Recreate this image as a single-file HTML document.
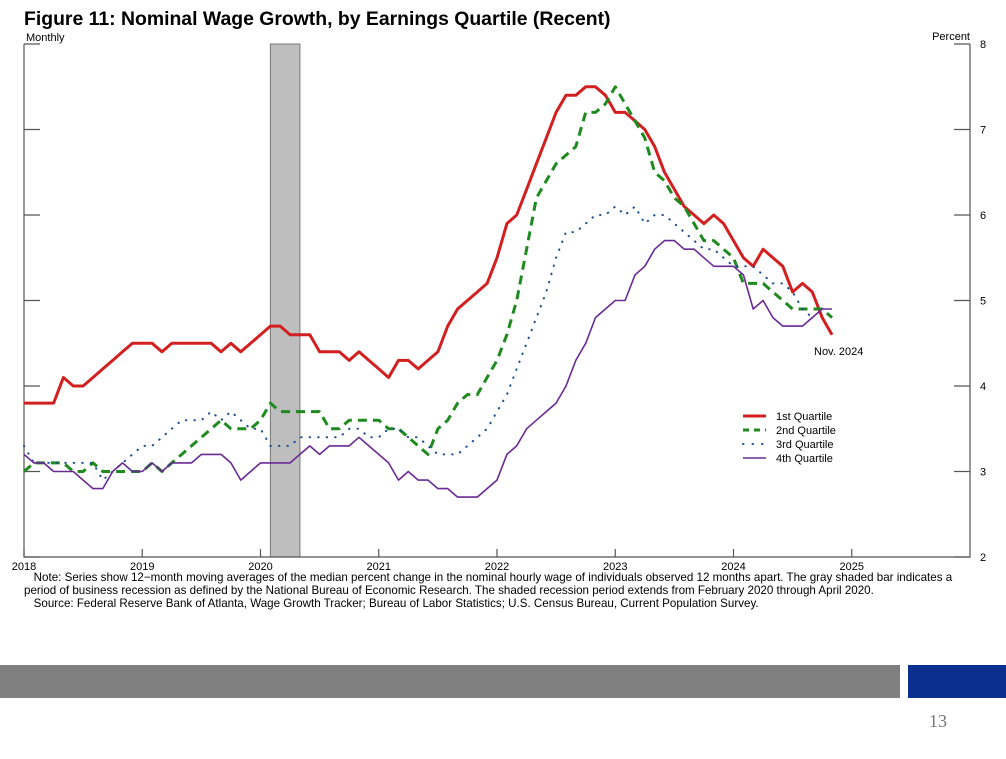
<!DOCTYPE html>
<html><head><meta charset="utf-8"><style>
body{margin:0;width:1006px;height:759px;background:#fff;overflow:hidden;font-family:"Liberation Sans",sans-serif;position:relative}
.t{position:absolute;white-space:nowrap}
</style></head><body>
<div class="t" style="left:24px;top:8px;font-size:19.4px;font-weight:bold;color:#000">Figure 11: Nominal Wage Growth, by Earnings Quartile (Recent)</div>
<svg id="c" width="1006" height="640" style="position:absolute;left:0;top:0" font-family="Liberation Sans, sans-serif"></svg>
<div class="t" style="left:24px;top:571px;font-size:11.6px;line-height:13px;color:#000">&nbsp;&nbsp;&nbsp;Note: Series show 12−month moving averages of the median percent change in the nominal hourly wage of individuals observed 12 months apart. The gray shaded bar indicates a<br>period of business recession as defined by the National Bureau of Economic Research. The shaded recession period extends from February 2020 through April 2020.<br>&nbsp;&nbsp;&nbsp;Source: Federal Reserve Bank of Atlanta, Wage Growth Tracker; Bureau of Labor Statistics; U.S. Census Bureau, Current Population Survey.</div>
<div style="position:absolute;left:0;top:665px;width:900px;height:33px;background:#808080"></div>
<div style="position:absolute;left:908px;top:665px;width:98px;height:33px;background:#0b2f8f"></div>
<div class="t" style="left:929px;top:711px;font-size:18px;color:#777;font-family:'Liberation Serif',serif">13</div>
<script>
const years=[2018,2019,2020,2021,2022,2023,2024,2025];
const yTicks=[2,3,4,5,6,7,8];
const q1=[3.8,3.8,3.8,3.8,4.1,4.0,4.0,4.1,4.2,4.3,4.4,4.5,4.5,4.5,4.4,4.5,4.5,4.5,4.5,4.5,4.4,4.5,4.4,4.5,4.6,4.7,4.7,4.6,4.6,4.6,4.4,4.4,4.4,4.3,4.4,4.3,4.2,4.1,4.3,4.3,4.2,4.3,4.4,4.7,4.9,5.0,5.1,5.2,5.5,5.9,6.0,6.3,6.6,6.9,7.2,7.4,7.4,7.5,7.5,7.4,7.2,7.2,7.1,7.0,6.8,6.5,6.3,6.1,6.0,5.9,6.0,5.9,5.7,5.5,5.4,5.6,5.5,5.4,5.1,5.2,5.1,4.8,4.6];
const q2=[3.0,3.1,3.1,3.1,3.1,3.0,3.0,3.1,3.0,3.0,3.0,3.0,3.0,3.1,3.0,3.1,3.2,3.3,3.4,3.5,3.6,3.5,3.5,3.5,3.6,3.8,3.7,3.7,3.7,3.7,3.7,3.5,3.5,3.6,3.6,3.6,3.6,3.5,3.5,3.4,3.3,3.2,3.5,3.6,3.8,3.9,3.9,4.1,4.3,4.6,5.0,5.6,6.2,6.4,6.6,6.7,6.8,7.2,7.2,7.3,7.5,7.3,7.1,6.9,6.5,6.4,6.2,6.1,5.9,5.7,5.7,5.6,5.5,5.2,5.2,5.2,5.1,5.0,4.9,4.9,4.9,4.9,4.8];
const q3=[3.3,3.1,3.1,3.1,3.1,3.1,3.1,3.1,2.9,3.0,3.1,3.2,3.3,3.3,3.4,3.5,3.6,3.6,3.6,3.7,3.6,3.7,3.6,3.5,3.5,3.3,3.3,3.3,3.4,3.4,3.4,3.4,3.4,3.5,3.5,3.4,3.4,3.5,3.5,3.4,3.4,3.3,3.2,3.2,3.2,3.3,3.4,3.5,3.7,3.9,4.2,4.5,4.8,5.1,5.5,5.8,5.8,5.9,6.0,6.0,6.1,6.0,6.1,5.9,6.0,6.0,5.9,5.8,5.7,5.6,5.6,5.5,5.4,5.4,5.4,5.3,5.2,5.2,5.1,4.9,4.8];
const q4=[3.2,3.1,3.1,3.0,3.0,3.0,2.9,2.8,2.8,3.0,3.1,3.0,3.0,3.1,3.0,3.1,3.1,3.1,3.2,3.2,3.2,3.1,2.9,3.0,3.1,3.1,3.1,3.1,3.2,3.3,3.2,3.3,3.3,3.3,3.4,3.3,3.2,3.1,2.9,3.0,2.9,2.9,2.8,2.8,2.7,2.7,2.7,2.8,2.9,3.2,3.3,3.5,3.6,3.7,3.8,4.0,4.3,4.5,4.8,4.9,5.0,5.0,5.3,5.4,5.6,5.7,5.7,5.6,5.6,5.5,5.4,5.4,5.4,5.3,4.9,5.0,4.8,4.7,4.7,4.7,4.8,4.9,4.9];
const L=24,R=970,T=44,B=557,X0=2018,X1=2026;
const xs=v=>L+(v-X0)/(X1-X0)*(R-L);
const ys=v=>B-(v-2)/6*(B-T);
const xm=i=>xs(X0+i/12);
const svg=document.getElementById('c');const NS='http://www.w3.org/2000/svg';
function mk(t,a){const e=document.createElementNS(NS,t);for(const k in a)e.setAttribute(k,a[k]);svg.appendChild(e);return e;}
let r=mk('rect',{x:xs(2020+1/12),y:T,width:xs(2020+4/12)-xs(2020+1/12),height:B-T,fill:'#bebebe',stroke:'#777','stroke-width':1});


let ax=mk('path',{d:`M${L},${T}V${B}H${R}V${T}`,fill:'none',stroke:'#555','stroke-width':1.2});


yTicks.forEach(v=>{const y=ys(v);
 let tk=mk('path',{d:`M${L},${y}h16M${R},${y}h-16`,stroke:'#555','stroke-width':1.2});
 
 
 let t=mk('text',{x:983,y:y+4,'font-size':11,'text-anchor':'middle'});t.textContent=v;
 
 });
years.forEach(v=>{const x=xs(v);
 let tk=mk('path',{d:`M${x},${B}v-8`,stroke:'#555','stroke-width':1.2});
 
 
 let t=mk('text',{x:x,y:570,'font-size':11,'text-anchor':'middle'});t.textContent=v;
 
 });
let a1=mk('text',{x:26,y:41,'font-size':11});a1.textContent='Monthly';


let a2=mk('text',{x:970,y:40,'font-size':11,'text-anchor':'end'});a2.textContent='Percent';


const series=[[q1,'#d22020',3,'','1st Quartile','line-q1'],[q2,'#1f8a1f',3,'9 6','2nd Quartile','line-q2'],[q3,'#1a4f8f',2,'0.5 8','3rd Quartile','line-q3'],[q4,'#6a2a95',1.6,'','4th Quartile','line-q4']];
series.forEach((s,k)=>{const d=s[0].map((v,i)=>(i?'L':'M')+xm(i).toFixed(1)+','+ys(v).toFixed(1)).join('');
 let p=mk('path',{d:d,fill:'none',stroke:s[1],'stroke-width':s[2],'stroke-dasharray':s[3],'stroke-linecap':k==2?'round':'butt','stroke-linejoin':'round'});
 
 
 const ly=416+k*14;
 let lp=mk('path',{d:`M743,${ly}h23`,stroke:s[1],'stroke-width':s[2],'stroke-dasharray':s[3]?(k==1?'6 5':'0.5 9'):'','stroke-linecap':k==2?'round':'butt'});
 
 
 let lt=mk('text',{x:776,y:ly+4,'font-size':11});lt.textContent=s[4];
 
 });
let an=mk('text',{x:814,y:355,'font-size':11});an.textContent='Nov. 2024';


</script>
</body></html>
